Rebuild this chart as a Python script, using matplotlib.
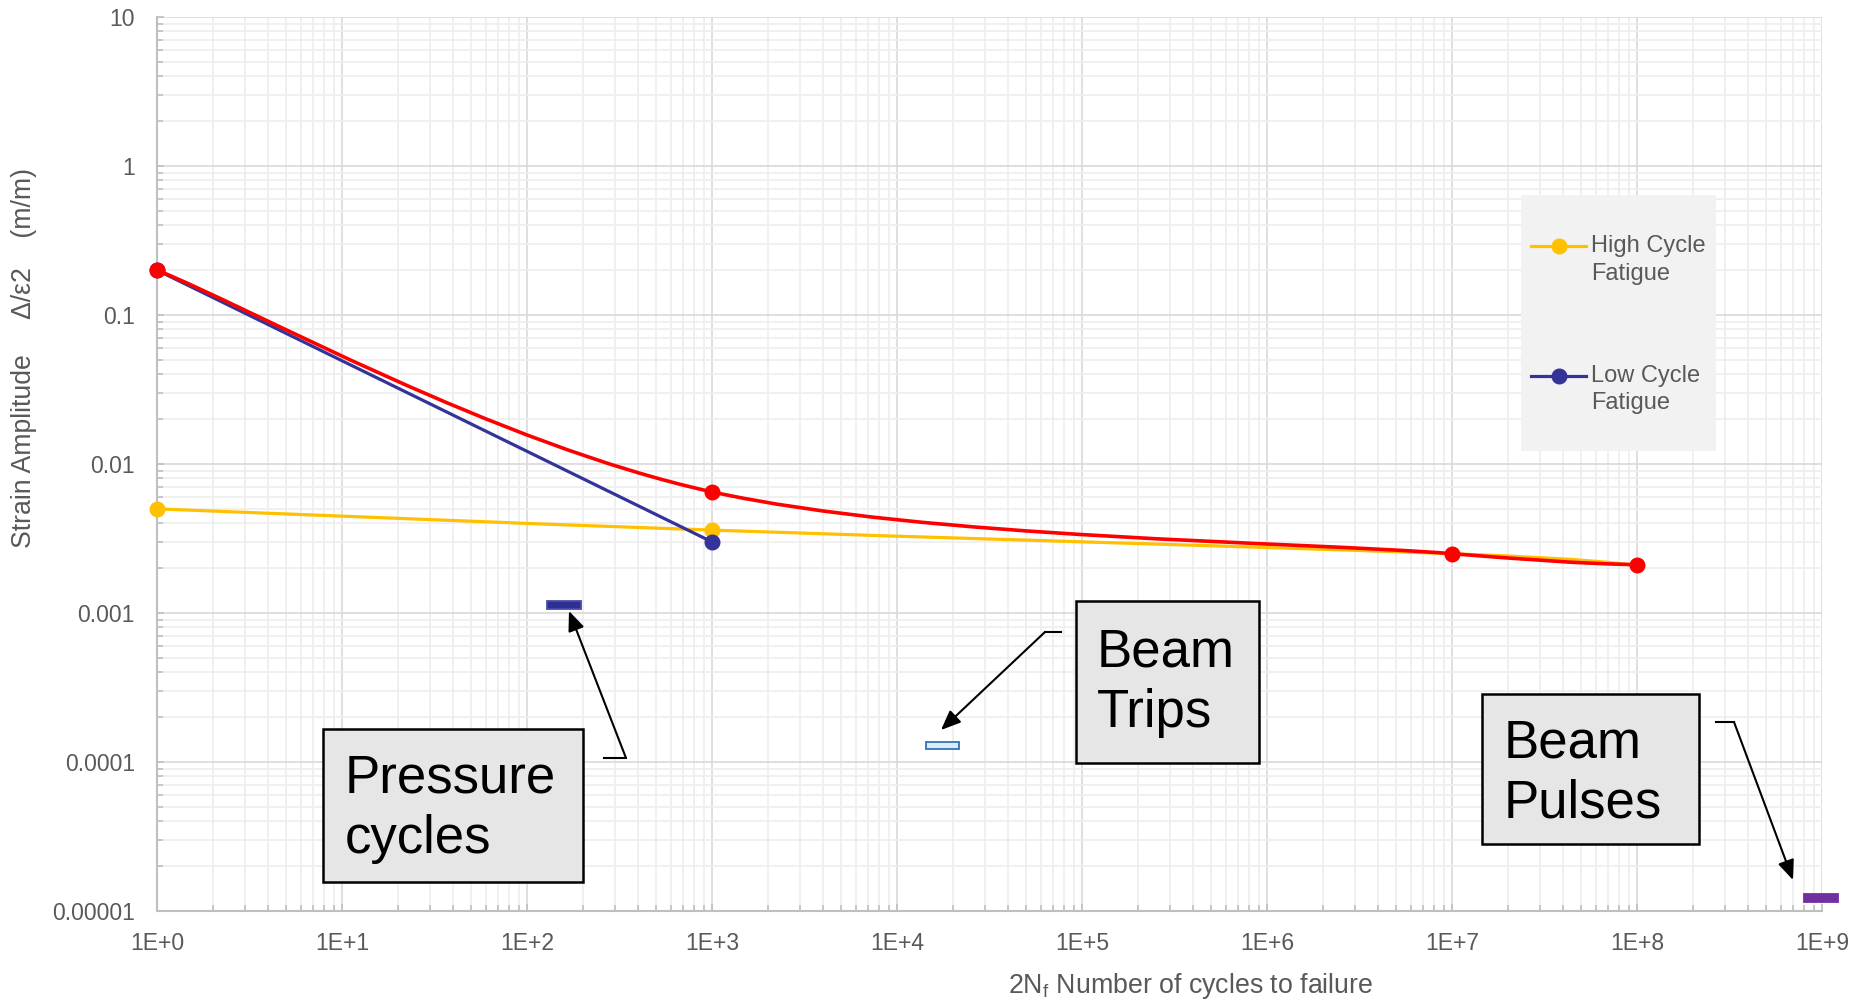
import numpy as np
import matplotlib
matplotlib.use("Agg")
import matplotlib.pyplot as plt
from matplotlib.path import Path
from matplotlib.patches import PathPatch, Rectangle
from matplotlib.lines import Line2D
from matplotlib.legend_handler import HandlerLine2D
from matplotlib.ticker import LogLocator, NullFormatter, FixedLocator, FixedFormatter

plt.rcParams['font.family'] = ['Liberation Sans', 'DejaVu Sans']

# ---------------- data ----------------
cycles_envelope = [1, 1e3, 1e7, 1e8]
strain_envelope = [0.2, 0.0065, 0.0025, 0.0021]

cycles_hcf = [1, 1e3, 1e7, 1e8]
strain_hcf = [0.005, 0.0036, 0.0025, 0.0021]

cycles_lcf = [1, 1e3]
strain_lcf = [0.2, 0.003]

event_names = ["Pressure cycles", "Beam Trips", "Beam Pulses"]
event_cycles_lo = [128, 14350, 8.0e8]
event_cycles_hi = [196, 21600, 1.22e9]
event_strain = [0.00113, 0.000129, 0.0000122]

x_ticks = [1e0, 1e1, 1e2, 1e3, 1e4, 1e5, 1e6, 1e7, 1e8, 1e9]
x_tick_labels = ["1E+0", "1E+1", "1E+2", "1E+3", "1E+4", "1E+5", "1E+6", "1E+7", "1E+8", "1E+9"]
y_ticks = [1e-5, 1e-4, 1e-3, 1e-2, 1e-1, 1, 10]
y_tick_labels = ["0.00001", "0.0001", "0.001", "0.01", "0.1", "1", "10"]
legend_labels = ["High Cycle\nFatigue", "Low Cycle\nFatigue"]

# ---------------- styles ----------------
C_RED = "#FF0000"
C_YEL = "#FFC000"
C_BLUE = "#333399"
C_TXT = "#595959"
event_face = ["#2E3192", "#DDEBF7", "#7030A0"]
event_edge = ["#4A4DA8", "#2E75B6", "#7030A0"]
event_half_dec = [0.027, 0.0235, 0.027]

W, H = 1860, 1000
fig = plt.figure(figsize=(W / 100, H / 100), dpi=100)
L, R, T, B = 157, 1822, 17, 911
ax = fig.add_axes([L / W, 1 - B / H, (R - L) / W, (B - T) / H])
ax.set_xscale("log")
ax.set_yscale("log")
ax.set_xlim(1, 1e9)
ax.set_ylim(1e-5, 10)


def smooth_path(xs, ys):
    """Excel-like smoothed line: cubic Bezier (Catmull-Rom) in log space."""
    P = np.column_stack([np.log10(xs), np.log10(ys)])
    n = len(P)
    verts = [P[0]]
    codes = [Path.MOVETO]
    for i in range(n - 1):
        p0 = P[i - 1] if i > 0 else P[i]
        p1, p2 = P[i], P[i + 1]
        p3 = P[i + 2] if i + 2 < n else P[i + 1]
        c1 = p1 + (p2 - p0) / 6.0
        c2 = p2 - (p3 - p1) / 6.0
        verts += [c1, c2, p2]
        codes += [Path.CURVE4] * 3
    return Path(10 ** np.array(verts), codes)


# series
ax.add_patch(PathPatch(smooth_path(cycles_hcf, strain_hcf), fill=False,
                       ec=C_YEL, lw=2.3, zorder=3, clip_on=False, capstyle="round"))
ax.plot(cycles_hcf[:2], strain_hcf[:2], ls="none", marker="o", ms=10.5,
        color=C_YEL, zorder=3.1, clip_on=False)
ax.plot(cycles_lcf, strain_lcf, color=C_BLUE, lw=2.3, marker="o", ms=10.5,
        zorder=3.2, clip_on=False)
ax.add_patch(PathPatch(smooth_path(cycles_envelope, strain_envelope), fill=False,
                       ec=C_RED, lw=2.6, zorder=3.4, clip_on=False, capstyle="round"))
ax.plot(cycles_envelope, strain_envelope, ls="none", marker="o", ms=10.5,
        color=C_RED, zorder=3.5, clip_on=False)

# event bars
for lo, hi, y, fc, ec, hd in zip(event_cycles_lo, event_cycles_hi, event_strain,
                                 event_face, event_edge, event_half_dec):
    y0 = y * 10 ** (-hd)
    y1 = y * 10 ** (hd)
    ax.add_patch(Rectangle((lo, y0), hi - lo, y1 - y0, fc=fc, ec=ec, lw=1.3,
                           zorder=3, clip_on=False))

# axes styling
ax.xaxis.set_major_locator(FixedLocator(x_ticks))
ax.xaxis.set_major_formatter(FixedFormatter(x_tick_labels))
ax.yaxis.set_major_locator(FixedLocator(y_ticks))
ax.yaxis.set_major_formatter(FixedFormatter(y_tick_labels))
ax.xaxis.set_minor_locator(LogLocator(base=10, subs=np.arange(2, 10), numticks=100))
ax.yaxis.set_minor_locator(LogLocator(base=10, subs=np.arange(2, 10), numticks=100))
ax.xaxis.set_minor_formatter(NullFormatter())
ax.yaxis.set_minor_formatter(NullFormatter())

ax.grid(which="minor", color="#EEEEEE", lw=1.2, zorder=0)
ax.grid(which="major", color="#D9D9D9", lw=1.2, zorder=0.5)
ax.set_axisbelow(True)
for s in ["top", "right"]:
    ax.spines[s].set_visible(False)
for s in ["left", "bottom"]:
    ax.spines[s].set_color("#BFBFBF")
    ax.spines[s].set_linewidth(1.5)
ax.tick_params(which="both", direction="in", color="#BFBFBF", width=1.2)
ax.tick_params(which="major", length=5)
ax.tick_params(which="minor", length=4)
ax.tick_params(axis="x", which="major", pad=15, labelsize=16.5, labelcolor=C_TXT)
ax.tick_params(axis="y", which="major", pad=16, labelsize=16.5, labelcolor=C_TXT)

# axis titles
fig.text(24 / W, 1 - 358 / H, "Strain Amplitude     \u0394/\u03b52    (m/m)",
         rotation=90, ha="center", va="center", fontsize=19.2, color=C_TXT)
fig.text(1191 / W, 1 - 986 / H, "2N$_\\mathregular{f}$ Number of cycles to failure",
         ha="center", va="center", fontsize=19.3, color=C_TXT)


# legend
class UpHandler(HandlerLine2D):
    def create_artists(self, legend, orig_handle, xdescent, ydescent, width,
                       height, fontsize, trans):
        arts = super().create_artists(legend, orig_handle, xdescent, ydescent,
                                      width, height, fontsize, trans)
        for a in arts:
            a.set_ydata(np.asarray(a.get_ydata(), dtype=float) + 0.6 * fontsize)
        return arts


ax.add_patch(Rectangle((1521 / W, 1 - 451 / H), 195 / W, 256 / H,
                       transform=fig.transFigure, fc="#F2F2F2", ec="none",
                       zorder=4, clip_on=False))
handles = [Line2D([], [], color=C_YEL, lw=2.3, marker="o", ms=10.5),
           Line2D([], [], color=C_BLUE, lw=2.3, marker="o", ms=10.5)]
leg = ax.legend(handles, legend_labels, loc="upper left",
                bbox_to_anchor=(1531 / W, 1 - 235 / H), bbox_transform=fig.transFigure,
                frameon=False, fontsize=17, labelcolor=C_TXT, handlelength=2.35,
                handletextpad=0.2, labelspacing=3.4, borderpad=0, borderaxespad=0,
                handler_map={Line2D: UpHandler(numpoints=1)})
for t in leg.get_texts():
    t.set_linespacing(1.33)
leg.set_zorder(5)

# callout boxes (figure pixel positions): box corners, text left, last-line baseline
boxes = [(323, 729, 583, 882, 345, 853),
         (1076, 601, 1259, 763, 1097, 727),
         (1482, 694, 1699, 844, 1504, 818)]
arrows = [((604, 758), (626, 758), (569, 611)),
          ((1061, 632), (1045, 632), (941, 730)),
          ((1716, 722), (1734, 722), (1793, 880))]

for name, (x0, y0, x1, y1, tx, ty) in zip(event_names, boxes):
    fig.add_artist(Rectangle((x0 / W, 1 - y1 / H), (x1 - x0) / W, (y1 - y0) / H,
                             transform=fig.transFigure, fc="#E7E6E6", ec="black",
                             lw=1.8, zorder=6))
    fig.text(tx / W, 1 - ty / H, name.replace(" ", "\n"), ha="left", va="baseline",
             fontsize=38, color="black", linespacing=1.27, zorder=7)

for (s, c, t) in arrows:
    fig.add_artist(Line2D([s[0] / W, c[0] / W], [1 - s[1] / H, 1 - c[1] / H],
                          transform=fig.transFigure, color="black", lw=1.5, zorder=6))
    ax.annotate("", xy=(t[0], H - t[1]), xycoords="figure pixels",
                xytext=(c[0], H - c[1]), textcoords="figure pixels",
                arrowprops=dict(arrowstyle="-|>,head_length=1.2,head_width=0.5",
                                color="black", lw=1.5, shrinkA=0, shrinkB=0),
                annotation_clip=False, zorder=6)

fig.savefig("out.png", dpi=100)
